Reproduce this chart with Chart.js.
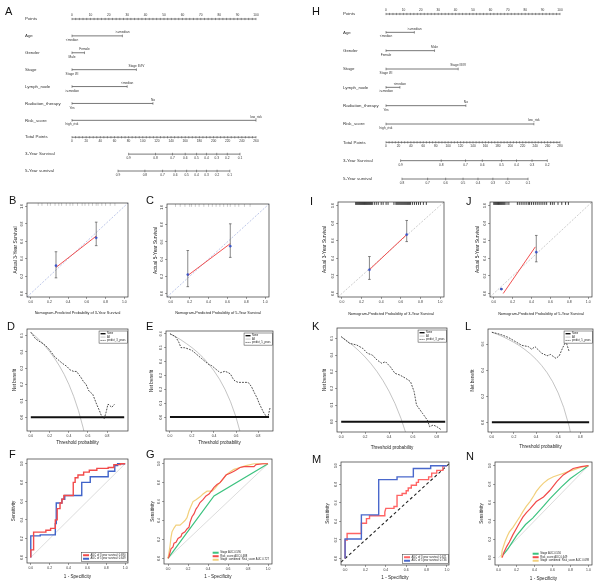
<!DOCTYPE html>
<html><head><meta charset="utf-8">
<script src="https://cdn.jsdelivr.net/npm/chart.js@4.4.1/dist/chart.umd.min.js"></script>
<style>
html,body{margin:0;padding:0;background:#fff;}
#wrap{position:relative;width:600px;height:584px;overflow:hidden;background:#fff;}
canvas{position:absolute;}
.lab{position:absolute;font-size:11px;line-height:11px;color:#111;font-family:"Liberation Sans",Arial,sans-serif;}
</style></head><body><div id="wrap"></div>
<script>
// ---------------- DATA ----------------
// Nomogram A
const nomoRowsA = ['Points','Age','Gender','Stage','Lymph_node','Radiation_therapy','Risk_score','Total Points','3-Year Survival','5-Year survival'];
const nomoVarMaxA = [27.4, 6.8, 35, 30, 44, 100];
const nomoLowA = ['<median','Male','Stage I/II','>=median','Yes','high_risk'];
const nomoHighA = ['>=median','Female','Stage III/IV','<median','No','low_risk'];
const pointLabels = [0,10,20,30,40,50,60,70,80,90,100];
const totalLabelsA = [0,20,40,60,80,100,120,140,160,180,200,220,240,260];
const surv3LabA = ['0.9','0.8','0.7','0.6','0.5','0.4','0.3','0.2','0.1'];
const surv3PosA = [80,118,142,160,176,190,204.5,219.5,237.4];
const surv5LabA = ['0.9','0.8','0.7','0.6','0.5','0.4','0.3','0.2','0.1'];
const surv5PosA = [65,103,128,146,162,176,190,205,223];
// Nomogram H
const nomoRowsH = nomoRowsA;
const nomoVarMaxH = [16.3, 27.9, 41.5, 8, 45.9, 85];
const nomoLowH = ['<median','Female','Stage I/II','>=median','Yes','high_risk'];
const nomoHighH = ['>=median','Male','Stage III/IV','<median','No','low_risk'];
const totalLabelsH = [0,20,40,60,80,100,120,140,160,180,200,220,240,260,280];
const surv3LabH = ['0.9','0.8','0.7','0.6','0.5','0.4','0.3','0.2'];
const surv3PosH = [23.5,88.9,128,155,186,210,235,259.6];
const surv5LabH = ['0.8','0.7','0.6','0.5','0.4','0.3','0.2','0.1'];
const surv5PosH = [25.7,67,96,124,148,172,196,228.6];

// Calibration
const unitTicks = [0,0.2,0.4,0.6,0.8,1.0];
const calB = {pred:[0.27,0.70], obs:[0.32,0.64], lo:[0.18,0.55], hi:[0.48,0.82], lineX:[0.27,0.70], lineY:[0.30,0.66]};
const calC = {pred:[0.18,0.63], obs:[0.22,0.55], lo:[0.08,0.42], hi:[0.50,0.81], lineX:[0.18,0.63], lineY:[0.21,0.58]};
const calI = {pred:[0.28,0.66], obs:[0.27,0.67], lo:[0.16,0.59], hi:[0.42,0.83], lineX:[0.28,0.66], lineY:[0.27,0.67]};
const calJ = {pred:[0.08,0.45], obs:[0.05,0.47], lo:[0.05,0.36], hi:[0.05,0.66], lineX:[0.10,0.44], lineY:[0.0,0.53]};
const rugB = [0.08,0.12,0.18,0.21,0.26,0.3,0.33,0.38,0.42,0.45,0.5,0.55,0.58,0.62,0.66,0.7,0.72,0.76,0.8,0.85,0.9];
const rugC = [0.05,0.1,0.15,0.2,0.22,0.26,0.3,0.35,0.4,0.44,0.48,0.52,0.56,0.6,0.63,0.68,0.72,0.78,0.84];
const rugI = [0.14,0.15,0.16,0.17,0.18,0.19,0.2,0.21,0.22,0.23,0.24,0.25,0.26,0.27,0.28,0.29,0.3,0.31,0.33,0.35,0.37,0.4,0.42,0.45,0.47,0.53,0.55,0.56,0.57,0.58,0.59,0.6,0.61,0.62,0.63,0.64,0.65,0.66,0.67,0.68,0.69,0.7,0.72,0.74,0.76,0.78,0.8,0.83,0.86];
const rugJ = [0.0,0.01,0.02,0.03,0.04,0.05,0.06,0.07,0.08,0.09,0.1,0.11,0.12,0.14,0.16,0.25,0.27,0.29,0.31,0.33,0.35,0.37,0.38,0.4,0.42,0.44,0.46,0.48,0.5,0.52,0.54,0.56,0.6,0.62,0.64,0.68,0.72,0.76,0.79];

// Decision curves
const dcaAllX = [0,0.05,0.1,0.15,0.2,0.25,0.3,0.35,0.4,0.45,0.5,0.55,0.6,0.65,0.7,0.75];
const dcaAllD = [0.52,0.495,0.467,0.435,0.40,0.36,0.314,0.262,0.20,0.127,0.04,-0.067,-0.2];
const dcaAllE = [0.6,0.579,0.556,0.529,0.5,0.467,0.429,0.385,0.333,0.273,0.2,0.111,0.0,-0.143];
const dcaAllK = [0.51,0.484,0.456,0.424,0.388,0.347,0.30,0.246,0.183,0.109,0.02,-0.089];
const dcaAllL = [0.69,0.674,0.656,0.635,0.6125,0.587,0.557,0.523,0.483,0.436,0.38,0.311,0.225,0.114,-0.033,-0.24];
const dcaModDX = [0,0.05,0.1,0.13,0.17,0.2,0.25,0.29,0.33,0.38,0.41,0.45,0.48,0.53,0.55,0.58,0.61,0.63,0.65,0.69,0.72,0.74,0.77,0.79,0.81,0.85,0.88];
const dcaModDY = [0.52,0.48,0.46,0.45,0.43,0.41,0.37,0.35,0.33,0.31,0.29,0.28,0.28,0.24,0.22,0.20,0.16,0.15,0.14,0.08,0.04,0.01,-0.01,0.03,0.08,0.06,0.08];
const dcaModEX = [0,0.05,0.08,0.1,0.13,0.17,0.2,0.23,0.26,0.29,0.32,0.35,0.38,0.41,0.44,0.46,0.5,0.53,0.55,0.57,0.59,0.62,0.65,0.68,0.71,0.74,0.77,0.79,0.81,0.84,0.86,0.89,0.91];
const dcaModEY = [0.6,0.58,0.54,0.5,0.5,0.49,0.48,0.46,0.44,0.42,0.40,0.38,0.37,0.35,0.33,0.32,0.33,0.32,0.31,0.28,0.26,0.25,0.25,0.25,0.25,0.22,0.17,0.14,0.10,0.05,0.02,0.0,0.07];
const dcaModKX = [0,0.07,0.13,0.18,0.22,0.26,0.3,0.34,0.37,0.41,0.45,0.49,0.54,0.58,0.61,0.63,0.66,0.68,0.72,0.74,0.77,0.8,0.84];
const dcaModKY = [0.51,0.47,0.46,0.44,0.41,0.40,0.37,0.35,0.36,0.33,0.29,0.28,0.26,0.24,0.18,0.10,0.07,0.05,0.01,-0.03,-0.02,-0.03,-0.05];
const dcaModLX = [0,0.05,0.09,0.15,0.21,0.27,0.33,0.36,0.39,0.45,0.5,0.53,0.58,0.61,0.64,0.67,0.70];
const dcaModLY = [0.69,0.68,0.67,0.65,0.62,0.59,0.58,0.56,0.58,0.53,0.51,0.52,0.49,0.51,0.57,0.62,0.54];
const dcaNoneEnd = {D:0.98, E:0.9, K:0.87, L:0.88};

// ROC
const rocF3X = [0,0,0.03,0.03,0.16,0.16,0.21,0.21,0.26,0.26,0.28,0.28,0.31,0.31,0.33,0.33,0.35,0.35,0.45,0.45,0.47,0.47,0.50,0.50,0.56,0.56,0.62,0.62,0.70,0.70,0.82,0.82,0.88,0.88,0.95,0.95,1];
const rocF3Y = [0,0.08,0.08,0.27,0.27,0.29,0.29,0.31,0.31,0.40,0.40,0.52,0.52,0.58,0.58,0.62,0.62,0.66,0.66,0.80,0.80,0.85,0.85,0.88,0.88,0.91,0.91,0.93,0.93,0.95,0.95,0.96,0.96,0.99,0.99,1,1];
const rocF5X = [0,0,0.10,0.10,0.26,0.26,0.27,0.27,0.33,0.33,0.36,0.36,0.54,0.54,0.63,0.63,0.82,0.82,0.89,0.89,0.92,0.92,1];
const rocF5Y = [0,0.23,0.23,0.24,0.24,0.36,0.36,0.58,0.58,0.62,0.62,0.66,0.66,0.80,0.80,0.86,0.86,0.92,0.92,0.98,0.98,1,1];
const rocGStageX = [0,0.46,1];
const rocGStageY = [0,0.66,1];
const rocGRiskX = [0,0.01,0.02,0.03,0.05,0.06,0.08,0.10,0.13,0.14,0.17,0.19,0.21,0.22,0.24,0.26,0.28,0.30,0.32,0.35,0.38,0.41,0.44,0.46,0.49,0.52,0.55,0.58,0.62,0.66,0.69,0.72,0.76,0.86,0.88,0.95,1];
const rocGRiskY = [0,0.02,0.06,0.10,0.12,0.16,0.17,0.21,0.23,0.26,0.28,0.31,0.33,0.38,0.44,0.47,0.52,0.55,0.59,0.62,0.66,0.68,0.72,0.75,0.78,0.80,0.84,0.88,0.90,0.92,0.94,0.96,0.97,0.97,0.99,1,1];
const rocGCombX = [0,0.01,0.02,0.03,0.04,0.06,0.08,0.12,0.14,0.17,0.19,0.21,0.23,0.25,0.28,0.32,0.35,0.39,0.44,0.47,0.50,0.53,0.56,0.59,0.63,0.66,0.72,0.78,0.86,1];
const rocGCombY = [0,0.06,0.13,0.22,0.28,0.32,0.35,0.35,0.37,0.40,0.43,0.50,0.55,0.60,0.62,0.65,0.68,0.71,0.71,0.74,0.78,0.81,0.85,0.89,0.92,0.94,0.96,0.98,1.0,1];
const rocM3X = [0,0,0.02,0.02,0.16,0.16,0.21,0.21,0.24,0.24,0.39,0.39,0.40,0.48,0.48,0.51,0.51,0.56,0.56,0.60,0.60,0.62,0.62,0.65,0.65,0.70,0.70,0.72,0.72,0.82,0.82,0.85,0.85,0.90,0.90,0.96,0.96,1];
const rocM3Y = [0,0.20,0.20,0.27,0.27,0.38,0.38,0.43,0.43,0.46,0.46,0.50,0.54,0.54,0.56,0.56,0.68,0.68,0.70,0.70,0.73,0.73,0.76,0.76,0.79,0.79,0.82,0.82,0.85,0.85,0.88,0.88,0.92,0.92,0.95,0.95,1.0,1];
const rocM5X = [0,0,0.16,0.16,0.33,0.33,0.51,0.51,0.67,0.67,0.84,0.84,1];
const rocM5Y = [0,0.21,0.21,0.47,0.47,0.85,0.85,0.88,0.88,0.97,0.97,1.0,1];
const rocNStageX = [0.05,0.1,0.2,0.3,0.38,0.5,0.57,0.7,0.8,0.9,1];
const rocNStageY = [0.03,0.09,0.24,0.36,0.43,0.56,0.64,0.77,0.86,0.93,1];
const rocNRiskX = [0.04,0.06,0.09,0.12,0.16,0.2,0.24,0.27,0.31,0.35,0.42,0.5,0.57,0.65,0.72,0.83,0.92,1];
const rocNRiskY = [0.0,0.06,0.12,0.17,0.25,0.32,0.39,0.44,0.49,0.53,0.61,0.66,0.73,0.83,0.90,0.97,0.99,1];
const rocNCombX = [0.03,0.04,0.07,0.1,0.12,0.16,0.2,0.24,0.27,0.31,0.35,0.39,0.42,0.46,0.5,0.55,0.61,0.7,0.76,0.85,0.91,1];
const rocNCombY = [0.0,0.08,0.17,0.24,0.28,0.33,0.39,0.45,0.5,0.56,0.61,0.67,0.72,0.77,0.81,0.85,0.88,0.91,0.93,0.96,0.98,1];

// ---------------- HELPERS ----------------
const FONT = '"Liberation Sans", Arial, sans-serif';
Chart.defaults.font.family = FONT;
Chart.defaults.color = '#222';
const wrap = document.getElementById('wrap');
function addCanvas(l,t,w,h){const c=document.createElement('canvas');c.width=w;c.height=h;c.style.left=l+'px';c.style.top=t+'px';c.style.width=w+'px';c.style.height=h+'px';wrap.appendChild(c);return c;}
function letter(t,l,top){const d=document.createElement('div');d.className='lab';d.textContent=t;d.style.left=l+'px';d.style.top=top+'px';wrap.appendChild(d);}
const xy=(xs,ys)=>ys.map((y,i)=>({x:xs[i],y}));
const L=(data,color,w,dash)=>({data,borderColor:color,borderWidth:w,borderDash:dash||[],pointRadius:0,showLine:true,fill:false,tension:0});

const frameBox={id:'frameBox',afterDraw(chart){const a=chart.chartArea,c=chart.ctx;c.save();c.strokeStyle='#333';c.lineWidth=0.7;c.strokeRect(a.left,a.top,a.right-a.left,a.bottom-a.top);c.restore();}};
const rlegend={id:'rlegend',afterDraw(chart,args,opts){
  if(!opts||!opts.items)return;
  const c=chart.ctx,a=chart.chartArea,fs=opts.fs||2.8,rh=fs*1.3,ll=opts.lineLen||6;
  c.save();c.font=fs+'px '+FONT;
  const items=[];for(let i=0;i<opts.items.length;i++)items.push(opts.items[i]);
  const tw=Math.max(...items.map(it=>c.measureText(it.text).width));
  const w=ll+tw+5,h=items.length*rh+2;
  const x=a.right-w-(opts.dx||1),y=opts.pos==='tr'?a.top+(opts.dy||2):a.bottom-h-(opts.dy||2);
  if(opts.border){c.fillStyle='#fff';c.fillRect(x,y,w,h);c.strokeStyle='#333';c.lineWidth=0.5;c.strokeRect(x,y,w,h);}
  items.forEach((it,i)=>{const cy=y+1+rh*(i+0.5);c.strokeStyle=it.color;c.lineWidth=it.lw;c.setLineDash(it.dash?[...it.dash]:[]);c.beginPath();c.moveTo(x+1.5,cy);c.lineTo(x+1.5+ll,cy);c.stroke();c.setLineDash([]);c.fillStyle='#222';c.textBaseline='middle';c.textAlign='left';c.fillText(it.text,x+ll+3,cy);});
  c.restore();}};
Chart.register(rlegend);

function panel(o){
  const tfs=o.titleFs||4.6, xtfs=o.xTitleFs||tfs;
  const left=Math.round(o.yTitleX-0.6*tfs), top=o.box.t-6, right=o.box.r+6, bottom=Math.round(o.xTitleY+0.6*xtfs);
  const cv=addCanvas(left,top,right-left,bottom-top);
  const yW=o.box.l-left, xH=bottom-o.box.b;
  const fmt=v=>Number(v).toFixed(1);
  const grid={display:true,drawOnChartArea:false,drawTicks:true,tickLength:2,color:'#444',lineWidth:0.5};
  new Chart(cv,{type:'line',data:{datasets:o.datasets.slice().reverse()},
    options:{animation:false,responsive:false,maintainAspectRatio:false,devicePixelRatio:1,
      layout:{padding:{left:0,top:6,right:6,bottom:0}},
      plugins:{legend:{display:false},tooltip:{enabled:false},rlegend:o.legend||{}},
      scales:{
        x:{type:'linear',min:o.xr[0],max:o.xr[1],afterBuildTicks:s=>{s.ticks=o.xTicks.map(v=>({value:v}));},afterFit:s=>{s.height=xH;},
          ticks:{font:{size:3.4},color:'#333',padding:1,maxRotation:0,autoSkip:false,callback:fmt},grid,border:{display:false},
          title:{display:true,text:o.xTitle,font:{size:xtfs},color:'#222',padding:0}},
        y:{type:'linear',min:o.yr[0],max:o.yr[1],afterBuildTicks:s=>{s.ticks=o.yTicks.map(v=>({value:v}));},afterFit:s=>{s.width=yW;},
          ticks:{font:{size:3.4},color:'#333',padding:1,minRotation:90,maxRotation:90,crossAlign:'center',autoSkip:false,callback:fmt},grid,border:{display:false},
          title:{display:true,text:o.yTitle,font:{size:tfs},color:'#222',padding:0}}
      }},
    plugins:[frameBox]});
}

function calDatasets(cal,rug,diagColor,rugColor,rugW){
  const ds=[];
  ds.push(L([{x:-0.04,y:-0.04},{x:1.04,y:1.04}],diagColor,0.6,[2,1.5]));
  ds.push({data:rug.map(v=>({x:v,y:1.025})),showLine:false,pointStyle:'line',rotation:90,pointRadius:1.6,pointBorderWidth:rugW,pointBorderColor:rugColor,borderColor:rugColor});
  ds.push(L(xy(cal.lineX,cal.lineY),'#f03c3c',0.9));
  cal.pred.forEach((p,i)=>{
    ds.push({data:[{x:p,y:cal.lo[i]},{x:p,y:cal.hi[i]}],borderColor:'#555',borderWidth:0.7,showLine:true,pointStyle:'line',pointRadius:1.3,pointBorderWidth:0.7,pointBorderColor:'#555'});
  });
  ds.push({data:xy(cal.pred,cal.obs),showLine:false,pointStyle:'circle',pointRadius:1.1,pointBorderWidth:0.5,pointBackgroundColor:'#3a55c8',pointBorderColor:'#3a55c8'});
  return ds;
}
function dcaDatasets(allY,modX,modY,noneEnd){
  return [
    L(xy(dcaAllX,allY),'#aaaaaa',0.7),
    L([{x:0,y:0},{x:noneEnd,y:0}],'#111',2),
    L(xy(modX,modY),'#222',0.8,[1.8,1.2])
  ];
}
function dcaLegend(name){return {pos:'tr',border:true,fs:2.6,lineLen:5,dx:0.5,dy:2,items:[{text:'None',color:'#111',lw:1.4},{text:'All',color:'#aaa',lw:0.7},{text:name,color:'#222',lw:0.7,dash:[1.2,0.8]}]};}

// ---------------- NOMOGRAMS ----------------
function nomogram(o){
  const cv=addCanvas(o.left,o.top,o.width,o.height);
  const C='#555';const ds=[];
  const line=(pts,ax)=>ds.push({data:pts,xAxisID:ax,yAxisID:'y',borderColor:C,borderWidth:0.8,pointRadius:0,showLine:true,clip:false});
  const ticks=(pts,ax,r)=>ds.push({data:pts,xAxisID:ax,yAxisID:'y',showLine:false,pointStyle:'line',rotation:90,pointRadius:r,pointBorderWidth:0.6,pointBorderColor:C,borderColor:C,clip:false});
  line([{x:0,y:0},{x:100,y:0}],'x');
  const minor=[];for(let v=0;v<=100;v+=2)minor.push({x:v,y:0});ticks(minor,'x',1.1);
  o.varMax.forEach((m,i)=>{line([{x:0,y:i+1},{x:m,y:i+1}],'x');ticks([{x:0,y:i+1},{x:m,y:i+1}],'x',1.3);});
  line([{x:0,y:7},{x:o.totalMax,y:7}],'x2');
  const tmin=[];for(let v=0;v<=o.totalMax;v+=5)tmin.push({x:v,y:7});ticks(tmin,'x2',1.1);
  [[o.s3Pos,8],[o.s5Pos,9]].forEach(([p,r])=>{line([{x:p[0],y:r},{x:p[p.length-1],y:r}],'x2');ticks(p.map(v=>({x:v,y:r})),'x2',1.3);});
  const txt={id:'nomoText',afterDatasetsDraw(chart){
    const c=chart.ctx,sx=chart.scales.x,sx2=chart.scales.x2,sy=chart.scales.y;
    c.save();c.fillStyle='#333';
    c.font=o.nameFs+'px '+FONT;c.textAlign='left';c.textBaseline='middle';
    o.rows.forEach((n,i)=>c.fillText(n,o.labelX,sy.getPixelForValue(i)));
    c.font=o.tickFs+'px '+FONT;c.textAlign='center';
    c.textBaseline='bottom';
    pointLabels.forEach(v=>c.fillText(String(v),sx.getPixelForValue(v),sy.getPixelForValue(0)-1.8));
    o.varMax.forEach((m,i)=>{const y=sy.getPixelForValue(i+1);
      c.textBaseline='bottom';c.fillText(o.high[i],sx.getPixelForValue(m),y-1.8);
      c.textBaseline='top';c.fillText(o.low[i],sx.getPixelForValue(0),y+2.6);});
    c.textBaseline='top';
    o.totalLabels.forEach(v=>c.fillText(String(v),sx2.getPixelForValue(v),sy.getPixelForValue(7)+2.4));
    o.s3Lab.forEach((t,k)=>c.fillText(t,sx2.getPixelForValue(o.s3Pos[k]),sy.getPixelForValue(8)+2.6));
    o.s5Lab.forEach((t,k)=>c.fillText(t,sx2.getPixelForValue(o.s5Pos[k]),sy.getPixelForValue(9)+2.6));
    c.restore();}};
  new Chart(cv,{type:'line',data:{datasets:ds},options:{animation:false,responsive:false,maintainAspectRatio:false,devicePixelRatio:1,
    layout:{padding:o.pad},plugins:{legend:{display:false},tooltip:{enabled:false}},
    scales:{x:{type:'linear',min:0,max:100,display:false},x2:{type:'linear',min:0,max:o.totalMax,display:false},y:{type:'linear',min:0,max:9,reverse:true,display:false}}},
    plugins:[txt]});
}
nomogram({left:0,top:0,width:300,height:185,pad:{left:72,right:44,top:19,bottom:14},labelX:25,nameFs:4.4,tickFs:3.2,
  rows:nomoRowsA,varMax:nomoVarMaxA,low:nomoLowA,high:nomoHighA,totalMax:260,totalLabels:totalLabelsA,s3Lab:surv3LabA,s3Pos:surv3PosA,s5Lab:surv5LabA,s5Pos:surv5PosA});
nomogram({left:300,top:0,width:300,height:190,pad:{left:86,right:40,top:14,bottom:11},labelX:43,nameFs:4.4,tickFs:3.2,
  rows:nomoRowsH,varMax:nomoVarMaxH,low:nomoLowH,high:nomoHighH,totalMax:280,totalLabels:totalLabelsH,s3Lab:surv3LabH,s3Pos:surv3PosH,s5Lab:surv5LabH,s5Pos:surv5PosH});

// ---------------- CALIBRATION ----------------
const cal3='Nomogram-Predicted Probability of 3-Year Survival', cal5='Nomogram-Predicted Probability of 5-Year Survival';
panel({box:{l:27,t:203,r:128,b:297},yTitleX:16,xTitleY:313,xr:[-0.04,1.04],yr:[-0.04,1.04],xTicks:unitTicks,yTicks:unitTicks,xTitle:cal3,yTitle:'Actual 3-Year Survival',xTitleFs:3.8,titleFs:4.8,
  datasets:calDatasets(calB,rugB,'#8fa0d8','#999',0.5)});
panel({box:{l:167,t:204,r:269,b:297},yTitleX:156,xTitleY:313,xr:[-0.04,1.04],yr:[-0.04,1.04],xTicks:unitTicks,yTicks:unitTicks,xTitle:cal5,yTitle:'Actual 5-Year Survival',xTitleFs:3.8,titleFs:4.8,
  datasets:calDatasets(calC,rugC,'#8fa0d8','#999',0.5)});
panel({box:{l:338,t:202,r:444,b:297},yTitleX:325,xTitleY:314,xr:[-0.04,1.04],yr:[-0.04,1.04],xTicks:unitTicks,yTicks:unitTicks,xTitle:cal3,yTitle:'Actual 3-Year Survival',xTitleFs:3.8,titleFs:4.8,
  datasets:calDatasets(calI,rugI,'#aaaaaa','#111',0.8)});
panel({box:{l:490,t:202,r:592,b:297},yTitleX:478,xTitleY:314,xr:[-0.04,1.04],yr:[-0.04,1.04],xTicks:unitTicks,yTicks:unitTicks,xTitle:cal5,yTitle:'Actual 5-Year Survival',xTitleFs:3.8,titleFs:4.8,
  datasets:calDatasets(calJ,rugJ,'#aaaaaa','#111',0.8)});

// ---------------- DECISION CURVES ----------------
const dx8=[0,0.2,0.4,0.6,0.8];
panel({box:{l:27,t:329,r:128,b:431},yTitleX:15,xTitleY:442,xr:[-0.04,1.02],yr:[-0.085,0.54],xTicks:dx8,yTicks:[0,0.1,0.2,0.3,0.4,0.5],xTitle:'Threshold probability',yTitle:'Net benefit',
  datasets:dcaDatasets(dcaAllD,dcaModDX,dcaModDY,dcaNoneEnd.D),legend:dcaLegend('predict_3_years')});
panel({box:{l:166,t:331,r:273,b:431},yTitleX:152,xTitleY:442,xr:[-0.036,0.936],yr:[-0.1,0.62],xTicks:dx8,yTicks:[0,0.1,0.2,0.3,0.4,0.5,0.6],xTitle:'Threshold probability',yTitle:'Net benefit',
  datasets:dcaDatasets(dcaAllE,dcaModEX,dcaModEY,dcaNoneEnd.E),legend:dcaLegend('predict_5_years')});
panel({box:{l:337,t:328,r:447,b:432},yTitleX:325,xTitleY:447,xr:[-0.035,0.885],yr:[-0.062,0.562],xTicks:dx8,yTicks:[0,0.1,0.2,0.3,0.4,0.5],xTitle:'Threshold probability',yTitle:'Net benefit',
  datasets:dcaDatasets(dcaAllK,dcaModKX,dcaModKY,dcaNoneEnd.K),legend:dcaLegend('predict_3_years')});
panel({box:{l:488,t:329,r:593,b:432},yTitleX:473,xTitleY:446,xr:[-0.035,0.915],yr:[-0.074,0.715],xTicks:dx8,yTicks:[0,0.2,0.4,0.6],xTitle:'Threshold probability',yTitle:'Net benefit',
  datasets:dcaDatasets(dcaAllL,dcaModLX,dcaModLY,dcaNoneEnd.L),legend:dcaLegend('predict_5_years')});

// ---------------- ROC ----------------
const diagGray=()=>L([{x:0,y:0},{x:1,y:1}],'#c4c4c4',0.6);
const RED='#f24a4a',BLUE='#3f63c9',GREEN='#3cc27f',YEL='#f2d07c';
panel({box:{l:27,t:459,r:128,b:563},yTitleX:14,xTitleY:576,xr:[-0.04,1.03],yr:[-0.06,1.05],xTicks:unitTicks,yTicks:unitTicks,xTitle:'1 - Specificity',yTitle:'Sensitivity',
  datasets:[diagGray(),L(xy(rocF5X,rocF5Y),BLUE,1.4),L(xy(rocF3X,rocF3Y),RED,1.4)],
  legend:{pos:'br',border:true,fs:2.7,lineLen:6,dx:0.5,dy:1.5,items:[{text:'AUC of 3 year survival: 0.690',color:RED,lw:2},{text:'AUC of 5 year survival: 0.649',color:BLUE,lw:2}]}});
panel({box:{l:164,t:459,r:272,b:564},yTitleX:153,xTitleY:576,xr:[-0.04,1.04],yr:[-0.06,1.05],xTicks:unitTicks,yTicks:unitTicks,xTitle:'1 - Specificity',yTitle:'Sensitivity',
  datasets:[diagGray(),L(xy(rocGStageX,rocGStageY),GREEN,1.2),L(xy(rocGCombX,rocGCombY),YEL,1.2),L(xy(rocGRiskX,rocGRiskY),RED,1.2)],
  legend:{pos:'br',border:false,fs:2.7,lineLen:6,dx:1,dy:1.5,items:[{text:'Stage AUC 0.590',color:GREEN,lw:2},{text:'Risk_score AUC 0.688',color:RED,lw:2},{text:'Stage_combined_Risk_score AUC 0.727',color:YEL,lw:2}]}});
panel({box:{l:341,t:462,r:449,b:565},yTitleX:328,xTitleY:577,xr:[-0.04,1.02],yr:[-0.07,1.04],xTicks:unitTicks,yTicks:unitTicks,xTitle:'1 - Specificity',yTitle:'Sensitivity',
  datasets:[L([{x:-0.04,y:-0.04},{x:1.02,y:1.02}],'#222',1.1,[3,2.5]),L(xy(rocM3X,rocM3Y),'#ff6464',1.4),L(xy(rocM5X,rocM5Y),'#4a68cc',1.4)],
  legend:{pos:'br',border:true,fs:2.7,lineLen:6,dx:0.5,dy:1.5,items:[{text:'AUC of 3 year survival: 0.621',color:'#ff6464',lw:2},{text:'AUC of 5 year survival: 0.736',color:'#4a68cc',lw:2}]}});
panel({box:{l:495,t:462,r:592,b:565},yTitleX:482,xTitleY:578,xr:[-0.04,1.04],yr:[-0.08,1.04],xTicks:unitTicks,yTicks:unitTicks,xTitle:'1 - Specificity',yTitle:'Sensitivity',
  datasets:[diagGray(),L(xy(rocNStageX,rocNStageY),GREEN,1.2),L(xy(rocNCombX,rocNCombY),YEL,1.2),L(xy(rocNRiskX,rocNRiskY),RED,1.2)],
  legend:{pos:'br',border:false,fs:2.7,lineLen:6,dx:1,dy:1.5,items:[{text:'Stage AUC 0.556',color:GREEN,lw:2},{text:'Risk_score AUC 0.649',color:RED,lw:2},{text:'Stage_combined_Risk_score AUC 0.698',color:YEL,lw:2}]}});

// ---------------- PANEL LETTERS ----------------
[['A',5,5.6],['H',312,5.6],['B',9,194.6],['C',146,194.6],['I',310,195.6],['J',466,195.6],['D',7,320.6],['E',146,320.6],['K',312,321],['L',465,321],['F',9,448.6],['G',146,448.6],['M',312,454],['N',466,450.5]]
  .forEach(([t,l,top])=>letter(t,l,top));
</script></body></html>
